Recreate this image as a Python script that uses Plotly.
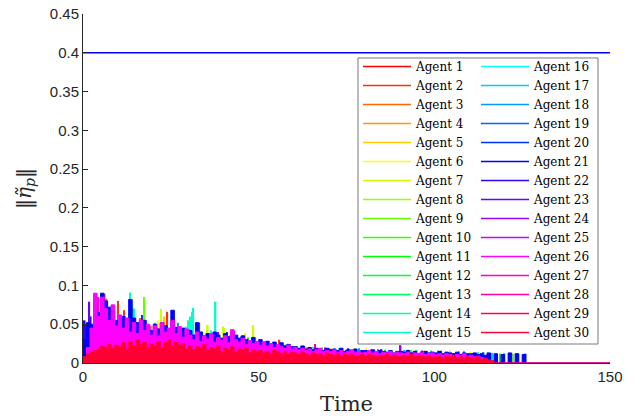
import colorsys
import plotly.graph_objects as go

# ---------------- data ----------------
N_AGENTS = 30
AGENT_NAMES = [f"Agent {k}" for k in range(1, N_AGENTS + 1)]

X_TICKS = [0, 50, 100, 150]
X_TICK_TEXT = ["0", "50", "100", "150"]
Y_TICKS = [0, 0.05, 0.1, 0.15, 0.2, 0.25, 0.3, 0.35, 0.4, 0.45]
Y_TICK_TEXT = ["0", "0.05", "0.1", "0.15", "0.2", "0.25", "0.3", "0.35", "0.4", "0.45"]

# bound line
BOUND_T = [0, 150]
BOUND_V = [0.4, 0.4]

TIME_END = 150
BODY_T = list(range(0, 127))  # sampling instants (s) for the dense agents

# dense agents (1 s sampling)
AGENT21_V = [
    0.030, 0.052, 0.050, 0.078, 0.065, 0.090, 0.080, 0.072, 0.068, 0.055,
    0.050, 0.060, 0.047, 0.082, 0.058, 0.052, 0.045, 0.055, 0.048, 0.042,
    0.050, 0.044, 0.052, 0.048, 0.042, 0.068, 0.046, 0.040, 0.045, 0.038,
    0.042, 0.036, 0.052, 0.040, 0.035, 0.038, 0.033, 0.040, 0.036, 0.032,
    0.038, 0.034, 0.030, 0.036, 0.032, 0.035, 0.030, 0.028, 0.033, 0.027,
    0.030, 0.026, 0.028, 0.025, 0.027, 0.023, 0.026, 0.022, 0.024, 0.021,
    0.021, 0.019, 0.022, 0.018, 0.020, 0.017, 0.019, 0.018, 0.016, 0.019,
    0.017, 0.018, 0.016, 0.019, 0.015, 0.017, 0.016, 0.018, 0.015, 0.016,
    0.016, 0.015, 0.017, 0.014, 0.016, 0.015, 0.014, 0.016, 0.013, 0.015,
    0.015, 0.014, 0.016, 0.013, 0.015, 0.012, 0.014, 0.015, 0.013, 0.014,
    0.013, 0.015, 0.012, 0.014, 0.013, 0.012, 0.014, 0.011, 0.013, 0.012,
    0.012, 0.013, 0.011, 0.012, 0.010, 0.013, 0.000, 0.012, 0.000, 0.011,
    0.000, 0.013, 0.000, 0.012, 0.000, 0.011, 0.000,
]
AGENT26_V = [
    0.005, 0.020, 0.045, 0.090, 0.060, 0.085, 0.070, 0.055, 0.075, 0.048,
    0.062, 0.045, 0.058, 0.040, 0.052, 0.038, 0.055, 0.042, 0.050, 0.036,
    0.048, 0.035, 0.052, 0.040, 0.045, 0.055, 0.038, 0.047, 0.033, 0.044,
    0.036, 0.030, 0.040, 0.028, 0.035, 0.031, 0.038, 0.027, 0.033, 0.029,
    0.035, 0.026, 0.043, 0.030, 0.027, 0.032, 0.024, 0.029, 0.025, 0.028,
    0.023, 0.027, 0.022, 0.025, 0.020, 0.024, 0.021, 0.019, 0.023, 0.018,
    0.020, 0.017, 0.019, 0.016, 0.018, 0.015, 0.017, 0.019, 0.015, 0.016,
    0.015, 0.017, 0.014, 0.016, 0.013, 0.015, 0.017, 0.014, 0.015, 0.013,
    0.014, 0.016, 0.013, 0.015, 0.012, 0.014, 0.013, 0.015, 0.012, 0.014,
    0.013, 0.012, 0.014, 0.011, 0.013, 0.012, 0.014, 0.011, 0.012, 0.013,
    0.011, 0.012, 0.010, 0.012, 0.011, 0.009, 0.011, 0.010, 0.012, 0.009,
    0.010, 0.008, 0.009, 0.007, 0.006, 0.000,
]
AGENT30_V = [
    0.008, 0.012, 0.014, 0.016, 0.018, 0.022, 0.020, 0.024, 0.019, 0.023,
    0.021, 0.026, 0.018, 0.028, 0.022, 0.030, 0.024, 0.027, 0.020, 0.025,
    0.022, 0.028, 0.019, 0.026, 0.030, 0.021, 0.027, 0.023, 0.025, 0.018,
    0.022, 0.017, 0.021, 0.019, 0.024, 0.016, 0.020, 0.018, 0.022, 0.015,
    0.019, 0.017, 0.021, 0.014, 0.018, 0.016, 0.020, 0.013, 0.017, 0.015,
    0.016, 0.013, 0.015, 0.012, 0.017, 0.014, 0.012, 0.015, 0.011, 0.014,
    0.013, 0.011, 0.014, 0.012, 0.010, 0.013, 0.011, 0.012, 0.010, 0.013,
    0.011, 0.010, 0.012, 0.009, 0.011, 0.010, 0.012, 0.009, 0.010, 0.011,
    0.009, 0.011, 0.010, 0.008, 0.010, 0.009, 0.011, 0.008, 0.010, 0.009,
    0.008, 0.010, 0.009, 0.011, 0.008, 0.009, 0.010, 0.008, 0.009, 0.007,
    0.009, 0.008, 0.007, 0.009, 0.008, 0.010, 0.007, 0.008, 0.006, 0.008,
    0.007, 0.006, 0.008, 0.005, 0.006, 0.004, 0.003, 0.000,
]

# sparse agents: peak times (s) and peak values
SPK01_T = [8.5, 27.5, 75.0]
SPK01_V = [0.052, 0.045, 0.017]
SPK02_T = [10.0, 11.7, 24.0, 55.9]
SPK02_V = [0.080, 0.068, 0.066, 0.030]
SPK03_T = [6.2, 6.7, 16.2, 50.6, 84.0]
SPK03_V = [0.089, 0.083, 0.058, 0.031, 0.018]
SPK04_T = [19.5, 44.0, 70.5, 102.0]
SPK04_V = [0.048, 0.036, 0.019, 0.016]
SPK05_T = [23.0, 63.5, 97.5]
SPK05_V = [0.060, 0.021, 0.016]
SPK06_T = [21.5, 80.5, 110.2]
SPK06_V = [0.055, 0.019, 0.0146]
SPK07_T = [22.2, 35.5, 39.8, 40.3, 46.1, 48.5, 52.2, 77.5, 104.5]
SPK07_V = [0.070, 0.049, 0.047, 0.045, 0.038, 0.049, 0.026, 0.019, 0.016]
SPK08_T = [26.0, 57.5, 88.0]
SPK08_V = [0.048, 0.024, 0.017]
SPK09_T = [0.3, 17.5, 61.0, 93.5, 122.5]
SPK09_V = [0.054, 0.085, 0.022, 0.017, 0.012]
SPK10_T = [9.0, 33.8, 68.0, 107.0]
SPK10_V = [0.055, 0.040, 0.020, 0.015]
SPK11_T = [12.3, 47.0, 86.0, 118.8]
SPK11_V = [0.058, 0.033, 0.017, 0.012]
SPK12_T = [15.0, 54.5, 99.0]
SPK12_V = [0.050, 0.024, 0.016]
SPK13_T = [20.5, 73.0, 112.5]
SPK13_V = [0.052, 0.019, 0.014]
SPK14_T = [28.5, 42.0, 65.5, 95.0]
SPK14_V = [0.045, 0.036, 0.021, 0.017]
SPK15_T = [0.0, 13.4, 14.0, 14.6, 29.5, 30.0, 30.5, 31.0, 31.4, 37.7, 59.0, 82.0, 120.0]
SPK15_V = [0.043, 0.091, 0.075, 0.070, 0.047, 0.055, 0.060, 0.066, 0.071, 0.079, 0.023, 0.018, 0.013]
SPK16_T = [18.5, 36.5, 71.5, 101.0, 124.0]
SPK16_V = [0.050, 0.042, 0.019, 0.016, 0.012]
SPK17_T = [11.0, 45.0, 91.5, 116.5]
SPK17_V = [0.060, 0.034, 0.017, 0.013]
SPK18_T = [27.0, 51.5, 78.5, 108.5]
SPK18_V = [0.052, 0.028, 0.019, 0.015]
SPK19_T = [7.5, 33.1, 62.5, 114.0]
SPK19_V = [0.070, 0.052, 0.022, 0.014]
SPK20_T = [16.8, 41.0, 75.5, 126.0]
SPK20_V = [0.062, 0.040, 0.019, 0.012]
SPK22_T = [0.5, 1.0, 2.2, 4.0]
SPK22_V = [0.055, 0.050, 0.060, 0.072]
SPK23_T = [1.8, 58.0, 96.5]
SPK23_V = [0.079, 0.023, 0.016]
SPK24_T = [38.5, 69.0, 90.4]
SPK24_V = [0.040, 0.020, 0.023]
SPK25_T = [3.5, 25.5, 85.0]
SPK25_V = [0.075, 0.050, 0.018]
SPK27_T = [4.4, 43.0, 56.5, 92.5]
SPK27_V = [0.085, 0.042, 0.026, 0.017]
SPK28_T = [14.5, 37.0, 66.0, 103.5]
SPK28_V = [0.052, 0.036, 0.0245, 0.014]
SPK29_T = [19.0, 48.0, 88.5]
SPK29_V = [0.040, 0.026, 0.013]

# ---------------- styling helpers ----------------
def agent_color(k):
    r, g, b = colorsys.hsv_to_rgb((k - 1) / N_AGENTS, 1.0, 1.0)
    return f"rgb({round(r * 255)},{round(g * 255)},{round(b * 255)})"

SPIKES = {
    1: (SPK01_T, SPK01_V), 2: (SPK02_T, SPK02_V), 3: (SPK03_T, SPK03_V),
    4: (SPK04_T, SPK04_V), 5: (SPK05_T, SPK05_V), 6: (SPK06_T, SPK06_V),
    7: (SPK07_T, SPK07_V), 8: (SPK08_T, SPK08_V), 9: (SPK09_T, SPK09_V),
    10: (SPK10_T, SPK10_V), 11: (SPK11_T, SPK11_V), 12: (SPK12_T, SPK12_V),
    13: (SPK13_T, SPK13_V), 14: (SPK14_T, SPK14_V), 15: (SPK15_T, SPK15_V),
    16: (SPK16_T, SPK16_V), 17: (SPK17_T, SPK17_V), 18: (SPK18_T, SPK18_V),
    19: (SPK19_T, SPK19_V), 20: (SPK20_T, SPK20_V), 22: (SPK22_T, SPK22_V),
    23: (SPK23_T, SPK23_V), 24: (SPK24_T, SPK24_V), 25: (SPK25_T, SPK25_V),
    27: (SPK27_T, SPK27_V), 28: (SPK28_T, SPK28_V), 29: (SPK29_T, SPK29_V),
}
BODIES = {21: AGENT21_V, 26: AGENT26_V, 30: AGENT30_V}

fig = go.Figure()

# bound line
fig.add_trace(go.Scatter(x=BOUND_T, y=BOUND_V, mode="lines",
                         line=dict(color="rgb(0,0,255)", width=1.6),
                         showlegend=False, hoverinfo="skip"))

# sparse agents as narrow spikes
for k, (tt, vv) in SPIKES.items():
    fig.add_trace(go.Bar(x=tt, y=vv, width=0.45,
                         marker=dict(color=agent_color(k), line=dict(width=0)),
                         showlegend=False, hoverinfo="skip"))

# dense agents
for k, vv in BODIES.items():
    xs = BODY_T[:len(vv)] + [TIME_END]
    ys = vv + [0.0]
    c = agent_color(k)
    fig.add_trace(go.Scatter(x=xs, y=ys, mode="lines", line=dict(color=c, width=1, shape="hv"),
                             fill="tozeroy", fillcolor=c, showlegend=False, hoverinfo="skip"))

# legend entries
for k in range(1, N_AGENTS + 1):
    fig.add_trace(go.Scatter(x=[None], y=[None], mode="lines",
                             line=dict(color=agent_color(k), width=1.5),
                             name=AGENT_NAMES[k - 1],
                             legend="legend" if k <= 15 else "legend2"))

AX = "#262626"
TICKFONT = dict(family="Liberation Sans", size=15, color=AX)
SERIF = "DejaVu Serif"

legend_common = dict(xanchor="left", yanchor="top", bgcolor="rgba(0,0,0,0)", borderwidth=0,
                     font=dict(family=SERIF, size=12, color="black"), itemwidth=48,
                     tracegroupgap=0, traceorder="normal")

fig.update_layout(
    width=635, height=416,
    margin=dict(l=83, r=25, t=14, b=53, autoexpand=False),
    paper_bgcolor="white", plot_bgcolor="white",
    barmode="overlay",
    xaxis=dict(range=[0, 150], tickvals=X_TICKS, ticktext=X_TICK_TEXT, automargin=False,
               ticks="inside", ticklen=5, tickcolor=AX, showline=True, linecolor=AX, linewidth=1,
               showgrid=False, zeroline=False, layer="below traces", tickfont=TICKFONT,
               title=dict(text="Time", font=dict(family=SERIF, size=21, color=AX), standoff=17)),
    yaxis=dict(range=[0, 0.45], tickvals=Y_TICKS, ticktext=Y_TICK_TEXT, automargin=False,
               ticks="inside", ticklen=5, tickcolor=AX, showline=True, linecolor=AX, linewidth=1,
               showgrid=False, zeroline=False, tickfont=TICKFONT,
               title=dict(text="‖<i>η̃</i><sub><i>p</i></sub>‖",
                          font=dict(family=SERIF, size=20, color=AX), standoff=12)),
    legend=dict(x=0.5218, y=0.891, **legend_common),
    legend2=dict(x=0.7457, y=0.891, **legend_common),
    shapes=[dict(type="rect", xref="paper", yref="paper", x0=0.5218, x1=0.9772, y0=0.0544, y1=0.874,
                 line=dict(color="#7a7a7a", width=1), fillcolor="white", layer="above")],
)

# place the figure at the page's top-left corner (no default 8px body margin)
fig.write_html("out.html", config={"displayModeBar": False},
               post_script="document.body.style.margin='0px';")
